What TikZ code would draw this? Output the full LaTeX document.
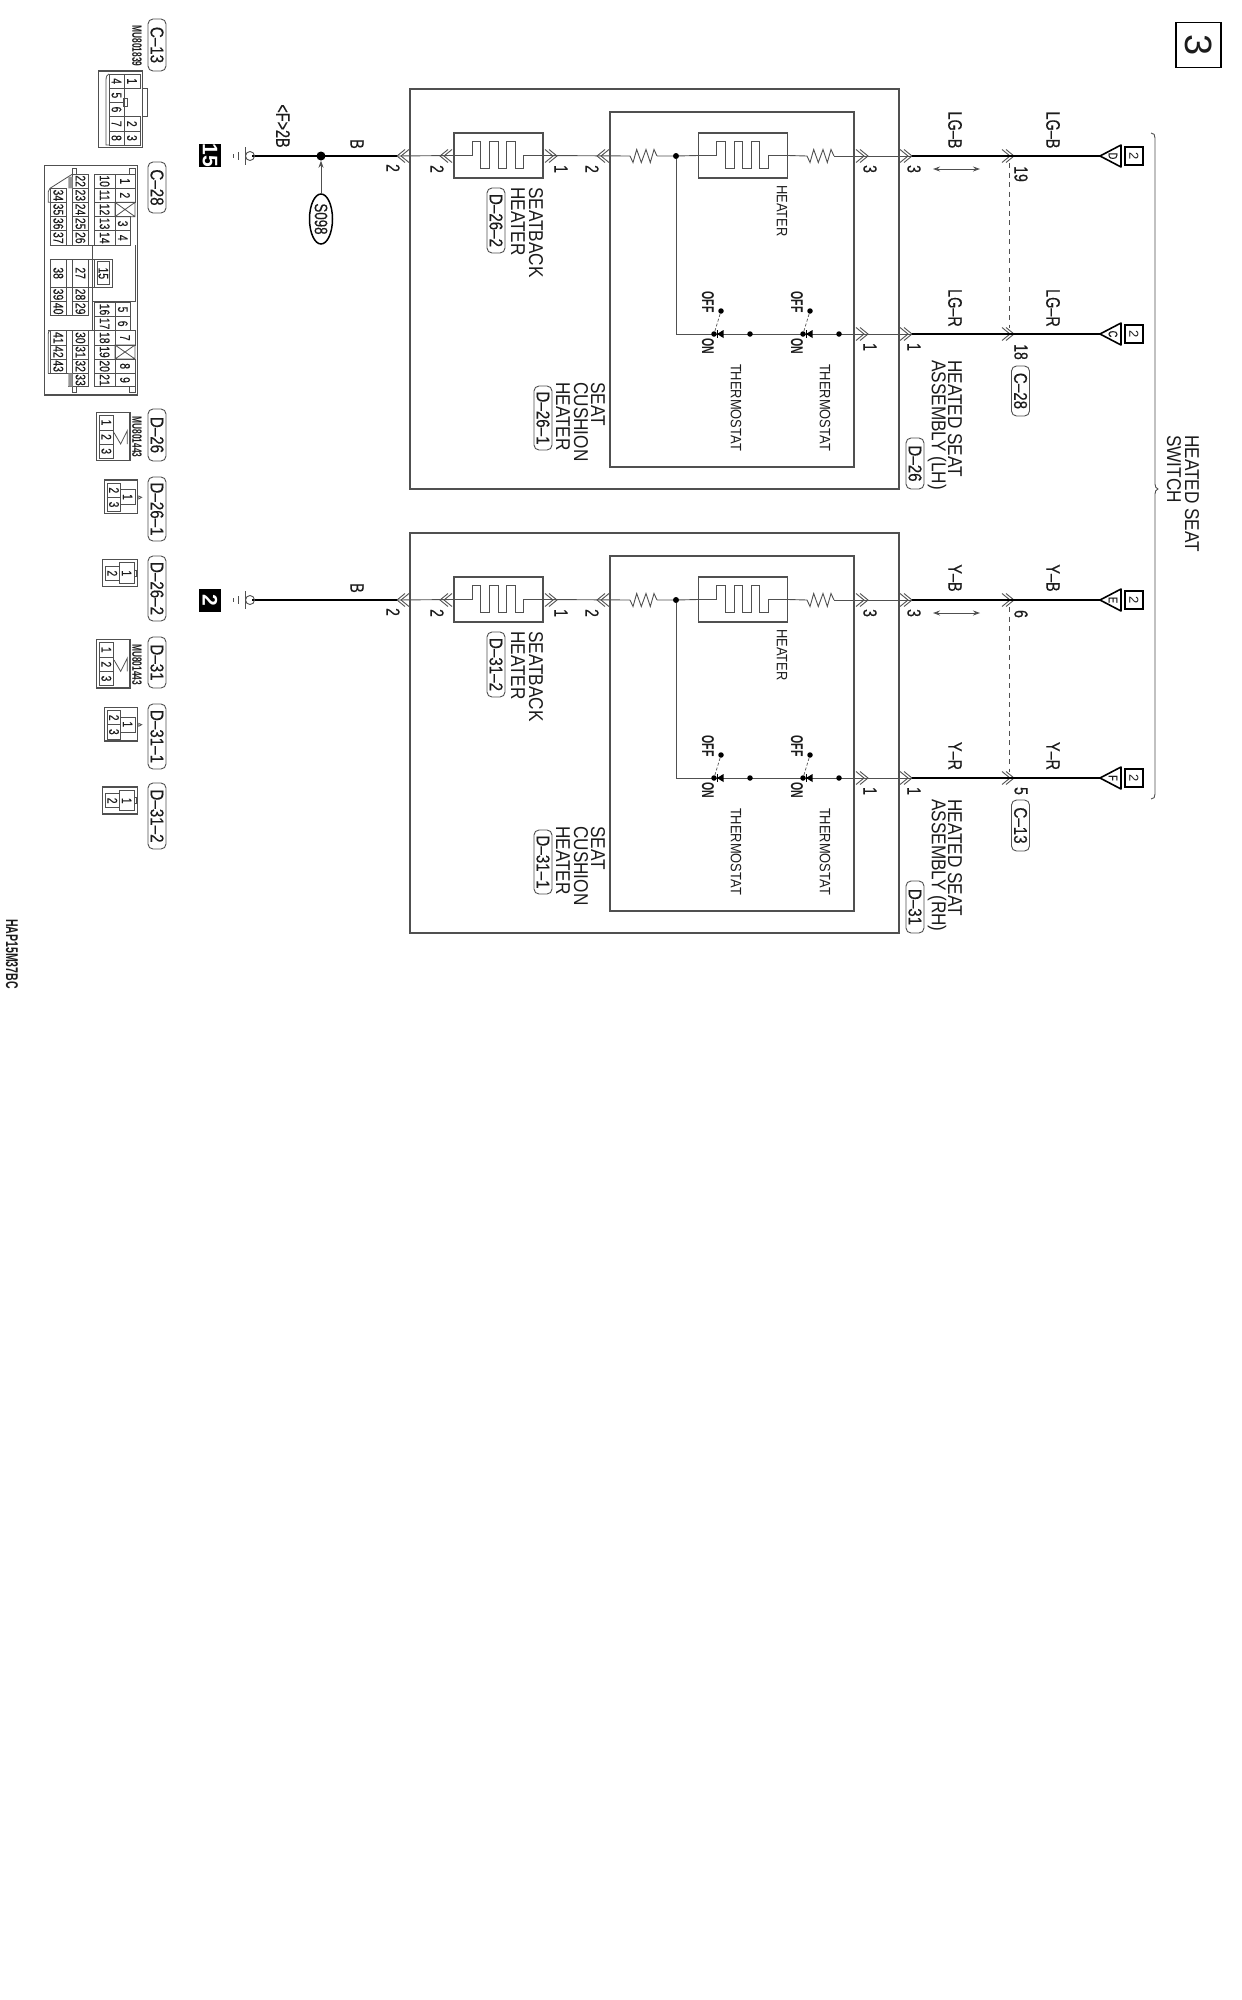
\documentclass[tikz,border=0pt]{standalone}
\usepackage{fontspec}
\usetikzlibrary{arrows.meta,shapes.geometric}
\setmainfont{Liberation Sans}
\newfontfamily\fmain[FakeStretch=0.86]{Liberation Sans}
\newfontfamily\fcond[FakeStretch=0.74,FakeBold=0.35]{Liberation Sans}
\newfontfamily\ftag[FakeStretch=0.82,FakeBold=0.3]{Liberation Sans}
\newfontfamily\fnar[FakeStretch=0.62]{Liberation Sans}
\definecolor{ln}{HTML}{505050}
\definecolor{tx}{HTML}{1C1C1C}
\tikzset{
 thinw/.style={draw=ln,line width=0.9pt},
 thickw/.style={draw=black,line width=2.8pt},
 fine/.style={draw=ln,line width=0.8pt},
 framebox/.style={draw=ln,line width=1.1pt},
 txt/.style={rotate=-90,inner sep=0pt,text=tx},
 mainl/.style={txt,font=\fmain\fontsize{20}{22}\selectfont,anchor=west},
 smalll/.style={txt,font=\fmain\fontsize{15}{16}\selectfont},
 wirel/.style={txt,font=\fcond\fontsize{19.5}{20}\selectfont},
 pinl/.style={txt,font=\fcond\fontsize{19}{20}\selectfont},
 cnum/.style={txt,font=\fcond\fontsize{14}{15}\selectfont},
 sw/.style={txt,font=\fnar\bfseries\fontsize{17}{18}\selectfont},
 mu/.style={txt,font=\fnar\bfseries\fontsize{13.5}{15}\selectfont},
 tagn/.style={rotate=-90,draw=ln,line width=0.9pt,rounded corners=5pt,inner sep=0pt,minimum height=18pt,text=tx,font=\ftag\fontsize{18.5}{20}\selectfont},
 heatbox/.style={framebox,minimum width=89pt,minimum height=45pt,inner sep=0pt},
 blk/.style={fill=black,text=white,rotate=-90,inner sep=0pt,minimum width=23pt,minimum height=22pt,font=\bfseries\fontsize{21}{22}\selectfont},
 sq/.style={rotate=-90,draw=black,line width=1.4pt,inner sep=0pt,minimum size=18pt,text=tx,font=\fontsize{13}{14}\selectfont},
 jdot/.style={circle,fill=black,inner sep=0pt,minimum size=#1},
 chevl/.pic={\draw[thinw] (8,-6.5)--(0,0)--(8,6.5) (12,-6.5)--(4,0)--(12,6.5);},
 chevr/.pic={\draw[thinw] (-8,-6.5)--(0,0)--(-8,6.5) (-12,-6.5)--(-4,0)--(-12,6.5);}
}
\newcommand\tagat[5]{\node[tagn,minimum width={(#4-#3)*1pt}] (#1) at (#2,{(#3+#4)/2}) {#5};}
\newcommand\meander[1]{%
 \draw[thinw] (#1.west) -- ++(18.7,0) -- ++(0,-13.7) -- ++(8.6,0) -- ++(0,27) -- ++(9,0) -- ++(0,-27) -- ++(8.4,0) -- ++(0,27) -- ++(8.3,0) -- ++(0,-27) -- ++(8.7,0) -- ++(0,27) -- ++(8.3,0) -- ++(0,-13.3) -- (#1.east);}
\newcommand\zig[2]{\draw[thinw] (#1) -- ++(3,6.5) -- ++(3.7,-13) -- ++(4.6,13) -- ++(4.7,-13) -- ++(4.3,13) -- ++(3.7,-13) -- (#2);}
\newcommand\term[3]{% name, y, letter
 \draw[black,line width=1.6pt,line join=round] (1100,#2) -- (1121,#2-11) -- (1121,#2+11) -- cycle;
 \coordinate (#1) at (1100,#2);
 \node[txt,font=\fcond\fontsize{12.5}{13}\selectfont] (#1l) at (1113,#2) {#3};
 \node[sq] (#1s) at (1134,#2) {2};
}
\newcommand\thermo[2]{% name, x
 \node[jdot=5.5pt] (#1on) at (#2,334) {};
 \node[jdot=5.5pt] (#1off) at (#2+7,311) {};
 \draw[thinw,line width=0.7pt,dash pattern=on 3pt off 2pt] (#1on) -- (#1off);
 \fill[black] (#2+3,334) -- (#2+9.5,330) -- (#2+9.5,338) -- cycle;
 \draw[black,line width=1pt] (#2+3,330) -- (#2+3,338);
 \node[jdot=5.5pt] (#1t) at (#2+36,334) {};
 \node[sw] (#1offl) at (#2-6,302) {OFF};
 \node[sw] (#1onl) at (#2-6,346) {ON};
 \node[smalll] (#1th) at (#2+22,407.5) {THERMOSTAT};
}
\newcommand\seatunit[4]{% shift, prefix, seatback tag, cushion tag
\begin{scope}[shift={(0,#1)},name prefix=#2-]
 \node[framebox,minimum width=489pt,minimum height=400pt,inner sep=0pt] (outerb) at (654.5,289) {};
 \node[framebox,minimum width=244pt,minimum height=355pt,inner sep=0pt] (innerb) at (732,289.5) {};
 \node[heatbox] (sb) at (498.5,155.5) {};
 \node[heatbox] (ht) at (743,155.5) {};
 \coordinate (gp) at (397,156);
 \coordinate (sbl) at (440,156);
 \coordinate (sbr) at (557,156);
 \coordinate (inl) at (597,156);
 \coordinate (inr) at (868,156);
 \coordinate (outa) at (912,156);
 \coordinate (swa) at (1014,156);
 \coordinate (inrb) at (868,334);
 \coordinate (outb) at (912,334);
 \coordinate (swb) at (1014,334);
 \coordinate (r1a) at (630,156); \coordinate (r1b) at (657,156);
 \coordinate (r2a) at (807,156); \coordinate (r2b) at (834,156);
 \node[jdot=6pt] (jn) at (676,156) {};
 \coordinate (corner) at (676,334);
 \draw[thinw] (gp) -- (sb.west);
 \draw[thinw] (sb.east) -- (r1a);
 \zig{r1a}{r1b}
 \draw[thinw] (r1b) -- (jn) -- (ht.west);
 \draw[thinw] (ht.east) -- (r2a);
 \zig{r2a}{r2b}
 \draw[thinw] (r2b) -- (outa);
 \draw[thinw] (jn) -- (corner) -- (outb);
 \meander{sb}
 \meander{ht}
 \pic at (gp) {chevl}; \pic at (sbl) {chevl}; \pic at (inl) {chevl};
 \pic at (sbr) {chevr}; \pic at (inr) {chevr}; \pic at (outa) {chevr}; \pic at (swa) {chevr};
 \pic at (inrb) {chevr}; \pic at (outb) {chevr}; \pic at (swb) {chevr};
 \node[smalll] (htl) at (782,211) {HEATER};
 \thermo{ta}{714}
 \thermo{tb}{803}
 \node[mainl] (sb1) at (536,187) {SEATBACK};
 \node[mainl] (sb2) at (518,187) {HEATER};
 \tagat{sbtag}{496}{188}{253}{#3}
 \node[mainl] (sc1) at (598,382) {SEAT};
 \node[mainl] (sc2) at (581,382) {CUSHION};
 \node[mainl] (sc3) at (563,382) {HEATER};
 \tagat{sctag}{543}{386}{450}{#4}
 \node[pinl] (p1) at (393,168) {2};
 \node[pinl] (p2) at (437,169) {2};
 \node[pinl] (p3) at (561,169) {1};
 \node[pinl] (p4) at (592,169) {2};
 \node[pinl] (p5) at (870,169) {3};
 \node[pinl] (p6) at (870,347) {1};
 \node[pinl] (p7) at (914,169) {3};
 \node[pinl] (p8) at (914,347) {1};
 \node[wirel] (bl) at (357,144) {B};
 \draw[thickw] (252,156) -- (gp);
 \draw[thinw] (250,156) circle (4.5);
 \draw[fine,line width=1pt] (245,147) -- (245,165);
 \draw[fine,line width=1pt] (238,152) -- (238,160) (233,154) -- (233,158);
 \draw[thickw] (outa) -- (swa);
 \draw[thickw] (outb) -- (swb);
 \coordinate (da) at (933,169); \coordinate (db) at (980,169);
 \draw[thinw,{Stealth[length=7pt,width=5pt]}-{Stealth[length=7pt,width=5pt]}] (da) -- (db);
 \coordinate (dsa) at (1009,163); \coordinate (dsb) at (1009,328);
 \draw[thinw,line width=0.7pt,dash pattern=on 5pt off 4.5pt] (dsa) -- (dsb);
\end{scope}}
\begin{document}
\begin{tikzpicture}[x=1pt,y=-1pt]
\useasboundingbox (0,0) rectangle (1242,2000);
\fill[white] (0,0) rectangle (1242,2000);
\seatunit{0}{L}{D–26–2}{D–26–1}
\seatunit{444}{R}{D–31–2}{D–31–1}
\node[blk] (n15) at (210,155.5) {15};
\node[blk] (n2) at (210,600) {2};
\node[wirel] (f2b) at (283,126) {<F>2B};
\node[jdot=9pt] (s98j) at (321,156) {};
\node[ellipse,rotate=-90,draw=black,line width=1.5pt,minimum width=50pt,minimum height=23pt,inner sep=0pt,text=tx,font=\fcond\fontsize{18}{19}\selectfont] (s98) at (321,219) {S098};
\draw[thinw,-{Stealth[length=7pt,width=5pt]}] (s98) -- (s98j);
\draw[thickw] (L-swa) -- (1100,156);
\draw[thickw] (L-swb) -- (1100,334);
\draw[thickw] (R-swa) -- (1100,600);
\draw[thickw] (R-swb) -- (1100,778);
\term{td}{156}{D}
\term{tc}{334}{C}
\term{te}{600}{E}
\term{tf}{778}{F}
\foreach \nm/\xx/\yy/\tt in {a/955/130/LG–B,b/1053/130/LG–B,c/955/308/LG–R,d/1053/308/LG–R,e/955/578/Y–B,f/1053/578/Y–B,g/955/756/Y–R,h/1053/756/Y–R}{
 \node[wirel] (w\nm) at (\xx,\yy) {\tt};}
\node[pinl] (p19) at (1021,174) {19};
\node[pinl] (p18) at (1021,352) {18};
\node[pinl] (p6) at (1021,614) {6};
\node[pinl] (p5) at (1021,791) {5};
\tagat{t28}{1020.5}{366}{416}{C–28}
\tagat{t13}{1020.5}{800}{851}{C–13}
\node[mainl] (ha1) at (955,360) {HEATED SEAT};
\node[mainl] (ha2) at (937,360) {ASSEMBLY (LH)};
\tagat{t26}{915}{438}{489}{D–26}
\node[mainl] (hb1) at (955,799) {HEATED SEAT};
\node[mainl] (hb2) at (937,799) {ASSEMBLY (RH)};
\tagat{t31}{915}{881}{933}{D–31}
\draw[thinw] (1151,133) .. controls (1154,133) and (1155,135) .. (1155,138) -- (1155,484) .. controls (1155,487) and (1156,488) .. (1158,489) .. controls (1156,490) and (1155,491) .. (1155,494) -- (1155,794) .. controls (1155,797) and (1154,799) .. (1151,799);
\node[mainl] (hs1) at (1192,435) {HEATED SEAT};
\node[mainl] (hs2) at (1174,435) {SWITCH};
\node[rotate=-90,draw=black,line width=1.5pt,minimum size=45pt,inner sep=0pt,text=tx,font=\fontsize{38}{40}\selectfont] (page) at (1198.5,45) {3};
\node[txt,font=\fnar\bfseries\fontsize{17}{18}\selectfont] (code) at (12,954) {HAP15M37BC};
\tagat{k13}{157}{19}{71}{C–13}
\tagat{k28}{157}{162}{213}{C–28}
\tagat{k26}{157}{409}{461}{D–26}
\tagat{k261}{157}{477}{541}{D–26–1}
\tagat{k262}{157}{556}{621}{D–26–2}
\tagat{k31}{157}{637}{688}{D–31}
\tagat{k311}{157}{704}{769}{D–31–1}
\tagat{k312}{157}{783}{849}{D–31–2}
\node[mu] (m13) at (137,46) {MU801839};
\node[mu] (m26) at (137,437) {MU801443};
\node[mu] (m31) at (137,664.5) {MU801443};
\newcommand\cellb[5]{\draw[fine] (#1,#2) rectangle (#3,#4); \node[cnum] (n#5) at ({(#1+#3)/2},{(#2+#4)/2}) {#5};}
\begin{scope}[x=0.33333pt,y=-0.33333pt,name prefix=c13-]
 \draw[framebox] (296,213) rectangle (427,443);
 \draw[fine] (427,265) rectangle (442,350);
 \draw[fine] (370,295) rectangle (383,320);
 \draw[fine] (327,435) -- (318,435) -- (318,240) .. controls (318,230) and (322,222) .. (327,222);
 \foreach \n/\a/\b in {1/222/265,2/350/393,3/393/435}{\cellb{372}{\a}{420}{\b}{\n}}
 \foreach \n/\a/\b in {4/222/265,5/265/307,6/307/350,7/350/393,8/393/435}{\cellb{327}{\a}{372}{\b}{\n}}
\end{scope}
\begin{scope}[x=0.33333pt,y=-0.33333pt,name prefix=c28-]
 \draw[framebox] (134,497) rectangle (413,1185);
 \foreach \ya/\yb in {505/522,1160/1177}{\foreach \xa/\xb in {216/230,388/405}{\draw[fine] (\xa,\ya) rectangle (\xb,\yb);}}
 \foreach \n/\a/\b in {1/522/565,2/565/607,7/992/1035,8/1077/1120,9/1120/1160}{\cellb{345}{\a}{405}{\b}{\n}}
 \foreach \n/\a/\b in {3/650/692,4/692/735,5/907/950,6/950/992}{\cellb{345}{\a}{392}{\b}{\n}}
 \foreach \a/\b in {607/650,1035/1077}{\draw[fine] (345,\a) rectangle (405,\b) (345,\a) -- (405,\b) (345,\b) -- (405,\a);}
 \foreach \n/\a/\b in {10/522/565,11/565/607,12/607/650,13/650/692,14/692/735,16/907/950,17/950/992,18/992/1035,19/1035/1077,20/1077/1120,21/1120/1160}{\cellb{283}{\a}{345}{\b}{\n}}
 \foreach \n/\a/\b in {22/522/565,23/565/607,24/607/650,25/650/692,26/692/735,27/777/862,28/862/905,29/905/947,30/992/1035,31/1035/1077,32/1077/1120,33/1120/1160}{\cellb{218}{\a}{265}{\b}{\n}}
 \foreach \n/\a/\b in {34/565/607,35/607/650,36/650/692,37/692/735,38/777/862,39/862/905,40/905/947,41/992/1035,42/1035/1077,43/1077/1120}{\cellb{150}{\a}{200}{\b}{\n}}
 \draw[fine] (283,777) rectangle (337,862) (291,785) rectangle (329,854);
 \node[cnum] (n15) at (310,820) {15};
 \draw[fine] (278,735) -- (278,992) (405,735) -- (405,907) (278,905) -- (405,905);
 \draw[fine] (150,735) -- (345,735) (150,777) -- (337,777) (150,862) -- (283,862) (150,947) -- (265,947) (145,992) -- (345,992) (145,1120) -- (218,1120) (205,1160) -- (218,1160);
 \draw[fine] (265,522) -- (265,735) (283,522) -- (283,735) (265,777) -- (265,947) (265,992) -- (265,1160) (283,992) -- (283,1160) (200,777) -- (200,947) (218,777) -- (218,947);
 \draw[fine] (218,522) -- (205,530) -- (150,565) -- (145,575) -- (145,607) -- (150,607);
 \fill[ln!60] (205,530) rectangle (218,565) (205,1120) rectangle (218,1160);
 \draw[fine] (145,1000) .. controls (145,995) and (147,992) .. (150,992) (145,1000) -- (145,1120);
\end{scope}
\newcommand\threepin{%
 \draw[framebox] (290,1237) rectangle (390,1382);
 \foreach \n/\a/\b in {1/1245/1290,2/1290/1332,3/1332/1375}{\cellb{298}{\a}{340}{\b}{\n}}
 \draw[fine] (342,1298) -- (362,1332) -- (382,1292) -- (382,1332);
}
\newcommand\sthree{%
 \draw[framebox] (313,1440) rectangle (413,1541);
 \draw[fine] (362,1469) rectangle (405,1514);
 \foreach \n/\a/\b in {2/1450/1492,3/1492/1535}{\cellb{322}{\a}{362}{\b}{\n}}
 \node[cnum] (n1) at (383,1491) {1};
 \draw[fine] (416,1488) -- (425,1492) -- (416,1497) -- cycle;
}
\newcommand\stwo{%
 \draw[framebox] (307,1679) rectangle (413,1760);
 \draw[fine] (403,1710) rectangle (408,1729);
 \draw[fine] (358,1688) rectangle (403,1750);
 \draw[fine] (317,1698) rectangle (358,1741);
 \node[cnum] (n2) at (337,1720) {2};
 \node[cnum] (n1) at (380,1720) {1};
}
\begin{scope}[x=0.33333pt,y=-0.33333pt,name prefix=c26-] \threepin \end{scope}
\begin{scope}[x=0.33333pt,y=-0.33333pt,name prefix=c261-] \sthree \end{scope}
\begin{scope}[x=0.33333pt,y=-0.33333pt,name prefix=c262-] \stwo \end{scope}
\begin{scope}[x=0.33333pt,y=-0.33333pt,yshift=-682*0.33333pt,name prefix=c31-] \threepin \end{scope}
\begin{scope}[x=0.33333pt,y=-0.33333pt,yshift=-682*0.33333pt,name prefix=c311-] \sthree \end{scope}
\begin{scope}[x=0.33333pt,y=-0.33333pt,yshift=-682*0.33333pt,name prefix=c312-] \stwo \end{scope}
\end{tikzpicture}
\end{document}
